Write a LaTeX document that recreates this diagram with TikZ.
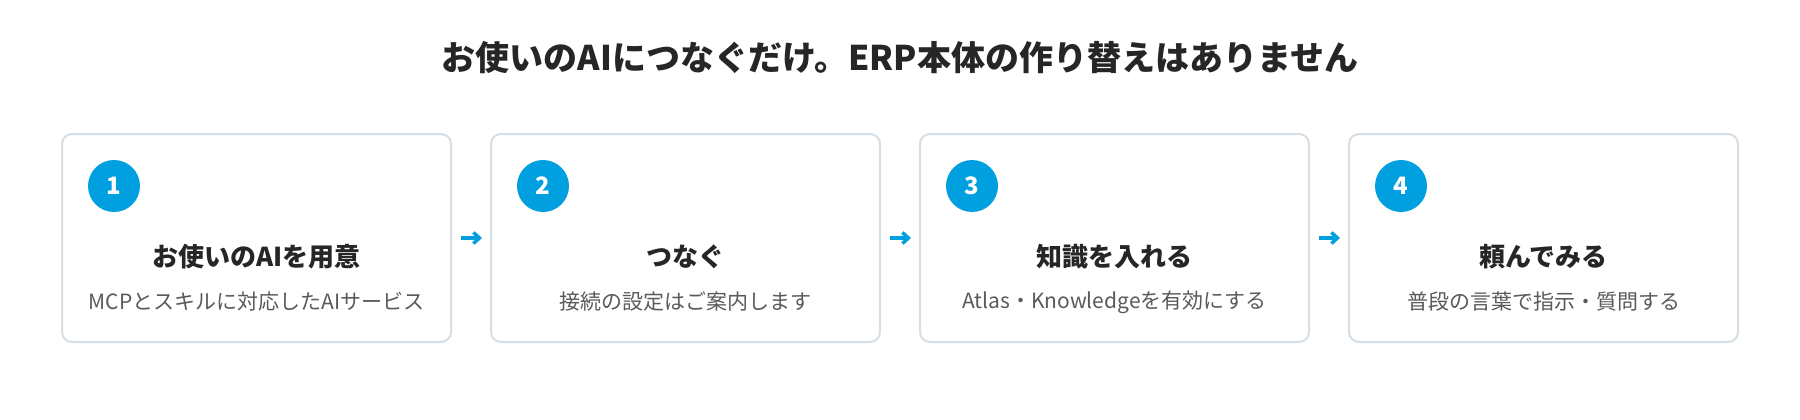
\documentclass[tikz,border=0pt]{standalone}
\usepackage{fontspec}
\setmainfont{Noto Sans CJK JP}
\usetikzlibrary{arrows.meta}
\definecolor{stepblue}{HTML}{009FDF}
\definecolor{cardline}{HTML}{D6DEE6}
\definecolor{inkdark}{HTML}{262626}
\definecolor{inkgray}{HTML}{5A5A5A}
\tikzset{ card/.style = { rectangle % step card
        , rounded corners = 10pt
        , draw = cardline
        , line width = 2pt
        , fill = white
        , minimum width = 389pt
        , minimum height = 208pt
        }
        , num/.style = { circle % step number
        , fill = stepblue
        , minimum size = 52pt
        , inner sep = 0pt
        , text = white
        , font = \bfseries\fontsize{24}{24}\selectfont
        }
        , head/.style = { rectangle % step title
        , inner sep = 0pt
        , text = inkdark
        , font = \bfseries\fontsize{26}{26}\selectfont
        }
        , sub/.style = { rectangle % step text
        , inner sep = 0pt
        , text = inkgray
        , font = \fontsize{21}{21}\selectfont
        }
        }

\begin{document}
\begin{tikzpicture}[x=1pt, y=-1pt,
        title_style/.style={inner sep=0pt,text=inkdark,font=\bfseries\fontsize{34}{34}\selectfont},
        edge_style/.style={draw=stepblue, line width=3.5pt, -{Straight Barb[length=6pt,width=11pt]}, shorten <=9pt, shorten >=8pt}]
        \useasboundingbox [fill=white] (0,0) rectangle (1800,420);

        \node [title_style](title) at (900,58) {お使いのAIにつなぐだけ。ERP本体の作り替えはありません};

        \node [card](c1) at (256.5,238) {};
        \node [card](c2) at (685.5,238) {};
        \node [card](c3) at (1114.5,238) {};
        \node [card](c4) at (1543.5,238) {};

        \node [num](n1) at (114,186) {1};
        \node [num](n2) at (543,186) {2};
        \node [num](n3) at (972,186) {3};
        \node [num](n4) at (1401,186) {4};

        \node [head](h1) at (256.5,257) {お使いのAIを用意};
        \node [head](h2) at (685.5,257) {つなぐ};
        \node [head](h3) at (1114.5,257) {知識を入れる};
        \node [head](h4) at (1543.5,257) {頼んでみる};

        \node [sub](s1) at (256.5,302) {MCPとスキルに対応したAIサービス};
        \node [sub](s2) at (685.5,302) {接続の設定はご案内します};
        \node [sub](s3) at (1114.5,302) {Atlas・Knowledgeを有効にする};
        \node [sub](s4) at (1543.5,302) {普段の言葉で指示・質問する};

        \draw [edge_style] (c1.east) -- (c2.west);
        \draw [edge_style] (c2.east) -- (c3.west);
        \draw [edge_style] (c3.east) -- (c4.west);
\end{tikzpicture}
\end{document}
